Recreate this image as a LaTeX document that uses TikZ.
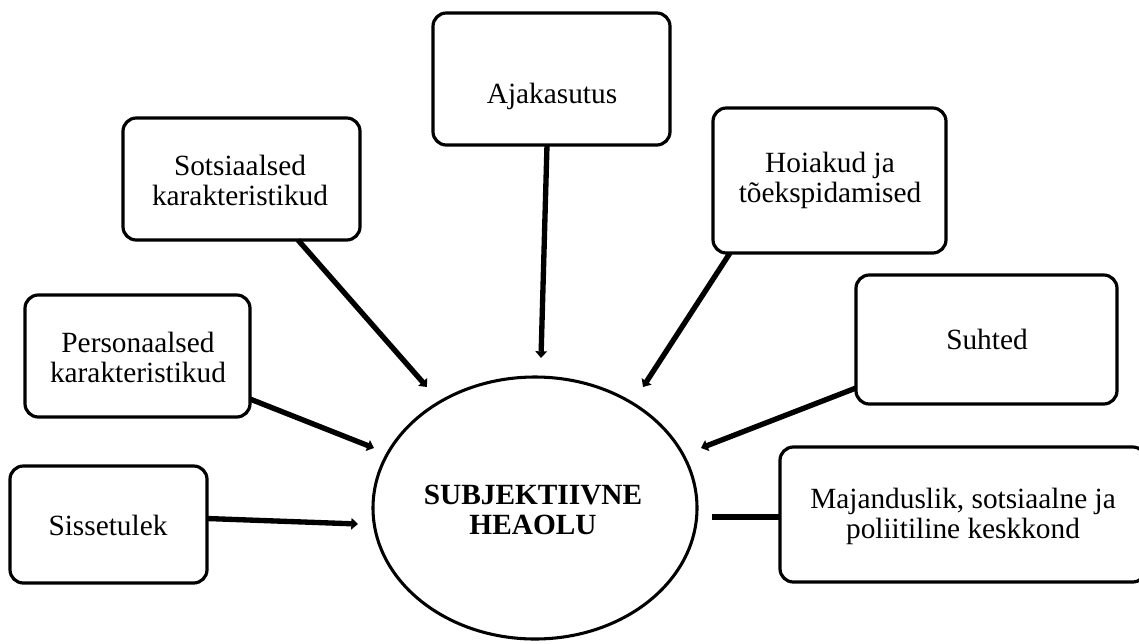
\documentclass[tikz,border=0pt]{standalone}
\usepackage{fontspec}
\setmainfont{Liberation Serif}
\usetikzlibrary{arrows.meta,calc,shapes.geometric}
\newdimen\pxu \pxu=0.75pt
\begin{document}
\begin{tikzpicture}[x=0.75pt,y=-0.75pt,
  box/.style={draw=black,line width=2.4pt,rounded corners=10pt,inner sep=0pt,outer sep=0pt,fill=white},
  lbl/.style={font=\fontsize{22}{22.5}\selectfont,align=center,inner sep=0pt},
  blbl/.style={font=\fontsize{22}{22.5}\selectfont\bfseries,align=center,inner sep=0pt},
  conn/.style={line width=4pt,-{Triangle[length=5pt,width=8.5pt]}},
  plain/.style={line width=4pt}]
\useasboundingbox (0,0) rectangle (1139,643);
\begin{scope}
\clip (0,0) rectangle (1139,643);
% boxes
\node[box,minimum width=197\pxu,minimum height=117\pxu] (sis) at (108.5,524.5) {};
\node[box,minimum width=225\pxu,minimum height=122\pxu] (per) at (137.5,356) {};
\node[box,minimum width=237\pxu,minimum height=122\pxu] (sot) at (241.5,179) {};
\node[box,minimum width=237\pxu,minimum height=132\pxu] (aja) at (551.5,79) {};
\node[box,minimum width=233\pxu,minimum height=145\pxu] (hoi) at (829.5,180.5) {};
\node[box,minimum width=261\pxu,minimum height=129\pxu] (suh) at (986.5,339.5) {};
\node[box,minimum width=366\pxu,minimum height=135\pxu] (maj) at (963,514.5) {};
\node[draw=black,line width=2.3pt,ellipse,minimum width=324\pxu,minimum height=262\pxu,inner sep=0pt,outer sep=0pt] (ell) at (535,508) {};
% texts
\node[lbl] (tsis) at (108,525) {Sissetulek};
\node[lbl] (tper) at (138,357) {Personaalsed\\karakteristikud};
\node[lbl] (tsot) at (240,180) {Sotsiaalsed\\karakteristikud};
\node[lbl] (taja) at (552,96) {Ajakasutus};
\node[lbl] (thoi) at (830,180) {Hoiakud ja\\tõekspidamised};
\node[lbl] (tsuh) at (987,339) {Suhted};
\node[lbl] (tmaj) at (963,516) {Majanduslik, sotsiaalne ja\\poliitiline keskkond};
\node[blbl] (tell) at (533,510) {SUBJEKTIIVNE\\HEAOLU};
% arrow tips
\coordinate (asis) at (358,524);
\coordinate (aper) at (374,448);
\coordinate (asot) at (427,387);
\coordinate (aaja) at (541,358);
\coordinate (ahoi) at (643,387);
\coordinate (asuh) at (701,448);
\coordinate (amaj) at (712,517);
% connectors
\draw[conn] ($(sis.east)+(0,-6)$) -- (asis);
\draw[conn] ($(per.south east)+(0,-18)$) -- (aper);
\draw[conn] ($(sot.south west)+(175,0)$) -- (asot);
\draw[conn] ($(aja.south)+(-4.5,0)$) -- (aaja);
\draw[conn] ($(hoi.south west)+(17,0)$) -- (ahoi);
\draw[conn] ($(suh.south west)+(0,-16)$) -- (asuh);
\draw[plain] ($(maj.west)+(0,2.5)$) -- (amaj);
\end{scope}
\end{tikzpicture}
\end{document}
